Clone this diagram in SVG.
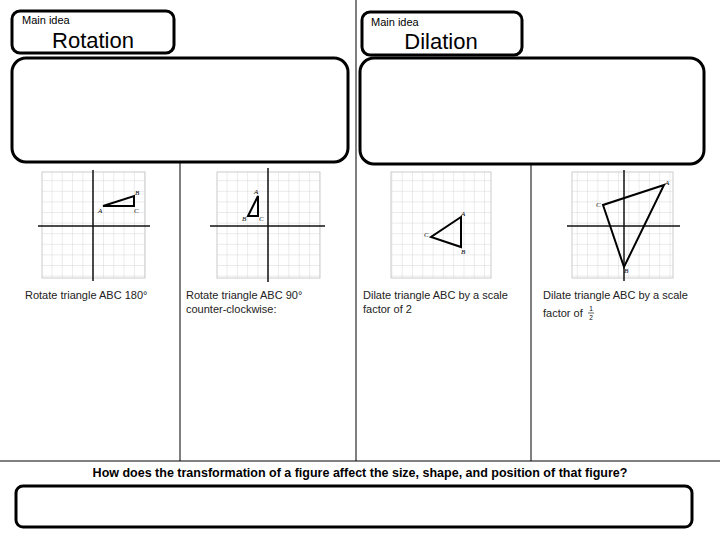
<svg xmlns="http://www.w3.org/2000/svg" width="720" height="540" viewBox="0 0 720 540">
<defs>
<style>
.box{fill:#fff;stroke:#000;stroke-width:3}
.sep{stroke:#000;stroke-width:1}
.ax{stroke:#111;stroke-width:1.5}
.tri{fill:none;stroke:#000;stroke-width:2}
.small{font-family:"Liberation Sans",Arial,sans-serif;font-size:11px;fill:#000}
.big{font-family:"Liberation Sans",Arial,sans-serif;font-size:22px;fill:#000}
.cap{font-family:"Liberation Sans",Arial,sans-serif;font-size:11px;fill:#222}
.lbl{font-family:"Liberation Serif",serif;font-style:italic;font-size:7px;fill:#000}
</style>
<pattern id="grid" width="10.3" height="10.6" patternUnits="userSpaceOnUse">
<path d="M0 0V10.6M0 0H10.3" stroke="#ccc" stroke-width="0.8" fill="none"/>
</pattern>
</defs>
<rect width="720" height="540" fill="#fff"/>
<g id="connectors">
<line class="sep" x1="356" y1="0" x2="356" y2="461"/>
<line class="sep" x1="180" y1="163" x2="180" y2="461"/>
<line class="sep" x1="531" y1="163" x2="531" y2="461"/>
<line class="sep" x1="0" y1="461" x2="720" y2="461"/>
</g>
<g id="title-rotation">
<rect class="box" x="12" y="11" width="162" height="42" rx="8"/>
<text class="small" x="22" y="24">Main idea</text>
<text class="big" x="93" y="48" text-anchor="middle">Rotation</text>
</g>
<g id="title-dilation">
<rect class="box" x="362" y="12" width="160" height="43" rx="8"/>
<text class="small" x="371" y="26">Main idea</text>
<text class="big" x="441" y="49" text-anchor="middle">Dilation</text>
</g>
<g id="box-rotation"><rect class="box" x="12" y="58" width="336" height="104" rx="14"/></g>
<g id="box-dilation"><rect class="box" x="360" y="58" width="344" height="106" rx="14"/></g>
<g id="graph1">
<rect x="42" y="172" width="103" height="106" fill="url(#grid)" stroke="#ccc"/>
<line class="ax" x1="38" y1="226" x2="150" y2="226"/><line class="ax" x1="93" y1="170" x2="93" y2="281"/>
<polygon class="tri" points="103,206 134,196 134,206"/>
<text class="lbl" x="98" y="213">A</text><text class="lbl" x="135" y="195">B</text><text class="lbl" x="134" y="213">C</text>
<text class="cap" x="25" y="299">Rotate triangle ABC 180°</text>
</g>
<g id="graph2">
<rect x="217" y="172" width="103" height="106" fill="url(#grid)" stroke="#ccc"/>
<line class="ax" x1="210" y1="226" x2="325" y2="226"/><line class="ax" x1="268" y1="168" x2="268" y2="282"/>
<polygon class="tri" points="258,196 248,216 258,216"/>
<text class="lbl" x="254" y="194">A</text><text class="lbl" x="242" y="221">B</text><text class="lbl" x="259" y="221">C</text>
<text class="cap" x="186" y="299">Rotate triangle ABC 90°</text>
<text class="cap" x="186" y="313">counter-clockwise:</text>
</g>
<g id="graph3">
<rect x="391" y="172" width="100" height="106" fill="url(#grid)" stroke="#ccc"/>
<polygon class="tri" points="461,217 431,237 461,247"/>
<text class="lbl" x="461" y="216">A</text><text class="lbl" x="424" y="237">C</text><text class="lbl" x="461" y="254">B</text>
<text class="cap" x="363" y="299">Dilate triangle ABC by a scale</text>
<text class="cap" x="363" y="313">factor of 2</text>
</g>
<g id="graph4">
<rect x="572" y="172" width="101" height="106" fill="url(#grid)" stroke="#ccc"/>
<line class="ax" x1="567" y1="226" x2="680" y2="226"/><line class="ax" x1="624" y1="170" x2="624" y2="281" stroke-width="0.7"/>
<polygon class="tri" points="664,185 603,205 624,267"/>
<text class="lbl" x="665" y="185">A</text><text class="lbl" x="596" y="207">C</text><text class="lbl" x="624" y="273">B</text>
<text class="cap" x="543" y="317">factor of</text>
<text class="cap" x="543" y="299">Dilate triangle ABC by a scale</text>
<text x="591" y="311" font-family="Liberation Sans,sans-serif" font-size="6.5" text-anchor="middle">1</text>
<line x1="588" y1="313" x2="594" y2="313" stroke="#222" stroke-width="0.7"/>
<text x="591" y="320" font-family="Liberation Sans,sans-serif" font-size="6.5" text-anchor="middle">2</text>
</g>
<g id="question">
<text x="360" y="477" text-anchor="middle" font-family="Liberation Sans,Arial,sans-serif" font-size="12.5" font-weight="bold">How does the transformation of a figure affect the size, shape, and position of that figure?</text>
</g>
<g id="box-answer"><rect class="box" x="16" y="486" width="676" height="41" rx="7"/></g>
</svg>
